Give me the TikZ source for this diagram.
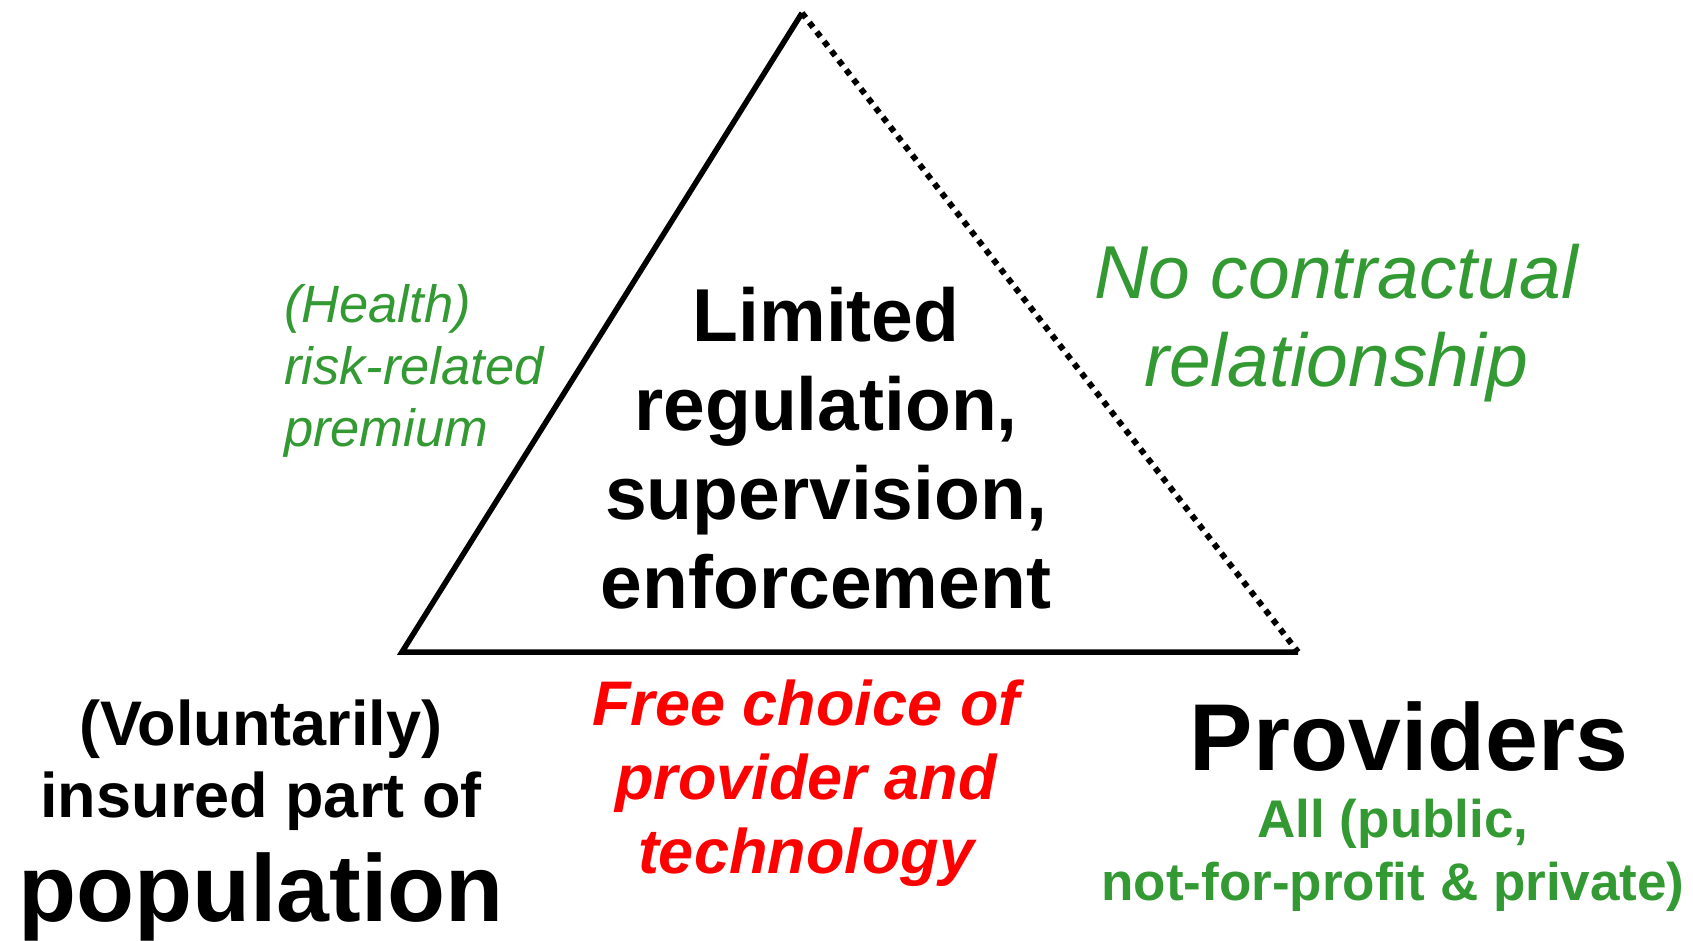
\documentclass[tikz,border=0pt]{standalone}
\usepackage{fontspec}
\setmainfont{Liberation Sans}
\definecolor{grn}{RGB}{51,153,51}
\definecolor{redtxt}{RGB}{255,0,0}
\tikzset{
  txt/.style={inner sep=0pt, outer sep=0pt},
  solidedge/.style={line width=5.5pt, line join=miter},
  dotedge/.style={line width=6pt, dash pattern=on 6pt off 6pt}
}
\begin{document}
\begin{tikzpicture}[x=1pt,y=-1pt]
\useasboundingbox (0,0) rectangle (1693,941);
% triangle corners
\coordinate (top) at (802,13);
\coordinate (bl) at (402,652);
\coordinate (br) at (1298,652);
\draw[solidedge] (br) -- (bl) -- (top);
\draw[dotedge] (top) -- (br);
% centre text
\node[txt, anchor=base] (centre) at (826,341) {\parbox[t]{600pt}{\centering\fontsize{75}{89}\selectfont\bfseries Limited\\regulation,\\supervision,\\enforcement}};
% left green text
\node[txt, anchor=base west] (premium) at (284,322) {\parbox[t]{320pt}{\raggedright\fontsize{52.5}{62}\selectfont\itshape\leavevmode\color{grn}(Health)\\risk-related\\premium}};
% right green text
\node[txt, anchor=base] (nocontract) at (1336,298) {\parbox[t]{700pt}{\centering\fontsize{75}{89}\selectfont\itshape\leavevmode\color{grn}No contractual\\relationship}};
% bottom left
\node[txt, anchor=base] (insured) at (261,745) {\parbox[t]{600pt}{\centering\fontsize{63}{72}\selectfont\bfseries (Voluntarily)\\insured part of}};
\node[txt, anchor=base] (population) at (261,921) {\fontsize{95}{105}\selectfont\bfseries population};
% bottom centre
\node[txt, anchor=base] (choice) at (806,725) {\parbox[t]{600pt}{\centering\fontsize{63}{74}\selectfont\bfseries\itshape\leavevmode\color{redtxt}Free choice of\\provider and\\technology}};
% bottom right
\node[txt, anchor=base] (providers) at (1409,770) {\fontsize{95}{105}\selectfont\bfseries Providers};
\node[txt, anchor=base] (allprov) at (1393,837) {\parbox[t]{700pt}{\centering\fontsize{53}{63}\selectfont\bfseries\leavevmode\color{grn}All (public,\\not-for-profit \& private)}};
\end{tikzpicture}
\end{document}
